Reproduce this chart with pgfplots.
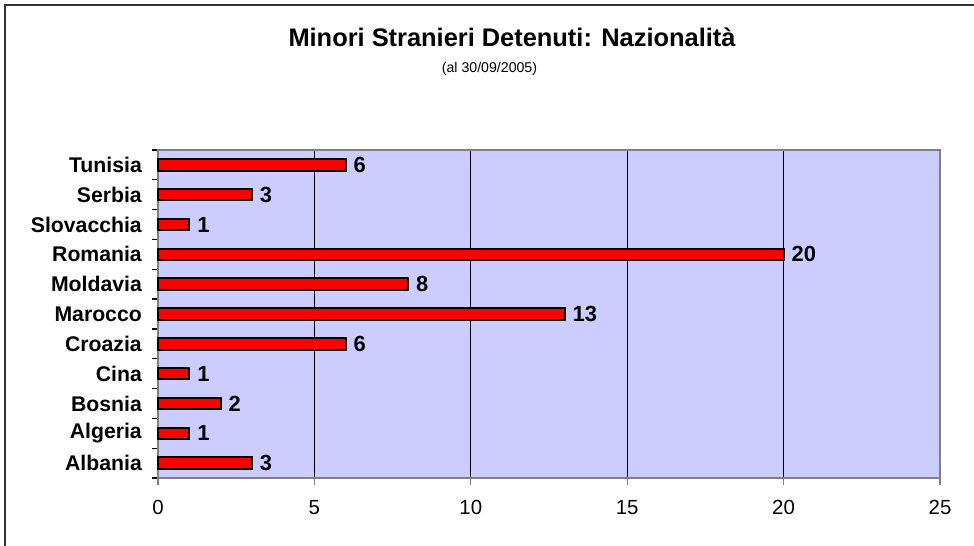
\documentclass[border=0pt]{standalone}
\usepackage{fontspec}
\setmainfont{Liberation Sans}
\usepackage{pgfplots}
\pgfplotsset{compat=1.18}
\definecolor{bgc}{HTML}{CCCCFF}
\definecolor{axg}{HTML}{808080}
\definecolor{frm}{HTML}{333333}
\begin{document}
\begin{tikzpicture}
\useasboundingbox (0,0) rectangle (974bp,-546bp);
\fill[white] (0,0) rectangle (974bp,-546bp);
\draw[line width=1.5bp, frm] (5bp,-546bp) -- (5bp,-5bp) -- (974bp,-5bp);
\node[anchor=base, font=\bfseries\fontsize{25.5}{30}\selectfont] at (512bp,-46bp) {Minori Stranieri Detenuti: Nazionalità};
\node[anchor=base, font=\fontsize{14.2}{17}\selectfont] at (489.5bp,-72bp) {(al 30/09/2005)};
\begin{axis}[
  at={(158bp,-478bp)}, anchor=south west,
  scale only axis, width=782bp, height=328bp,
  xbar, bar width=11.5bp,
  xmin=0, xmax=25, ymin=-0.5, ymax=10.5,
  xtick={0,5,10,15,20,25},
  tick pos=left,
  xmajorgrids, major grid style={black, line width=0.9bp},
  axis background/.style={fill=bgc},
  axis line style={axg, line width=1.6bp},
  tick align=outside, major tick length=6.5bp,
  x tick style={axg, line width=1.2bp},
  y tick style={black, line width=1.2bp},
  ytick={-0.5,0.5,...,10.5}, yticklabels={},
  extra y ticks={0,1,2,3,4,5,6,7,8,9,10},
  extra y tick labels={Albania,Algeria,Bosnia,Cina,Croazia,Marocco,Moldavia,Romania,Slovacchia,Serbia,Tunisia},
  extra y tick style={major tick length=0pt, tick style={draw=none}},
  yticklabel style={font=\bfseries\fontsize{21.3}{24}\selectfont, inner sep=0pt, xshift=-16bp},
  xticklabel style={font=\fontsize{20.5}{24}\selectfont, inner sep=0pt, yshift=-16bp},
  /pgf/number format/assume math mode=true,
  nodes near coords,
  every node near coord/.append style={font=\bfseries\fontsize{22}{26}\selectfont, anchor=west, inner sep=0pt, xshift=7bp, black},
  clip=false,
]
\addplot[fill=red, draw=black, line width=2bp] coordinates {
(3,0) (1,1) (2,2) (1,3) (6,4) (13,5) (8,6) (20,7) (1,8) (3,9) (6,10)
};
\end{axis}
\end{tikzpicture}
\end{document}
